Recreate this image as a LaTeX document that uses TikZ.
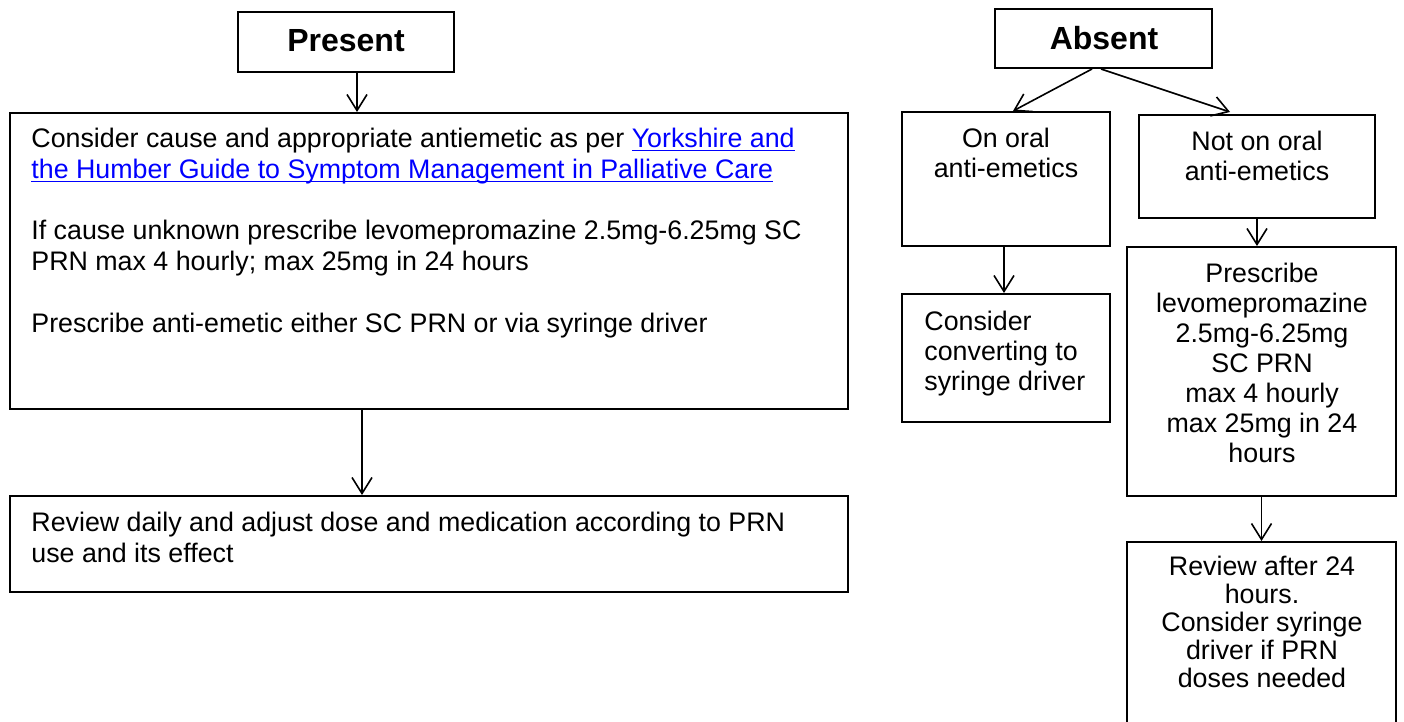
\documentclass[tikz,border=0pt]{standalone}
\usepackage{fontspec}
\setmainfont{Liberation Sans}
\usetikzlibrary{arrows.meta,calc,fit}
\newcommand{\lnk}[1]{\textcolor{blue}{\setbox0\hbox{#1}\rlap{\rule[-2pt]{\wd0}{0.7pt}}\box0}}
\tikzset{
  box/.style={draw, line width=1pt, inner sep=0pt, rectangle},
  arr/.style={line width=0.8pt, -{Straight Barb[length=8pt,width=10pt,line width=0.8pt]}},
  head/.style={font=\fontsize{16}{19}\bfseries\selectfont, inner sep=0pt, anchor=base},
  ltxt/.style={font=\fontsize{13.4}{15.4}\selectfont, inner sep=0pt, anchor=north west, align=left},
  ctxt/.style={font=\fontsize{13.4}{15}\selectfont, inner sep=0pt, anchor=north, align=center},
  rtxt/.style={font=\fontsize{13.4}{15}\selectfont, inner sep=0pt, anchor=north west, align=left},
  dtxt/.style={font=\fontsize{13.4}{14}\selectfont, inner sep=0pt, anchor=north, align=center}
}
\begin{document}
\begin{tikzpicture}[x=0.5pt,y=-0.5pt]
\clip (0,0) rectangle (1404,722);
\fill[white] (0,0) rectangle (1404,722);
% boxes
\node[box, fit={(238,12) (454,72)}] (present) {};
\node[box, fit={(10,113) (848,409)}] (big) {};
\node[box, fit={(10,496) (848,592)}] (review) {};
\node[box, fit={(995,9) (1212,68)}] (absent) {};
\node[box, fit={(902,112) (1110,246)}] (onoral) {};
\node[box, fit={(1139,115) (1375,218)}] (notoral) {};
\node[box, fit={(902,294) (1110,422)}] (convert) {};
\node[box, fit={(1127,247) (1396,496)}] (prescribe) {};
\node[box, fit={(1127,542) (1396,740)}] (reviewafter) {};
% texts
\node[head] (tpresent) at (346,52) {Present};
\node[head] (tabsent) at (1104,50) {Absent};
\node[ltxt] (tbig) at (31,125.4) {\strut Consider cause and appropriate antiemetic as per \lnk{Yorkshire and}\\
\lnk{the Humber Guide to Symptom Management in Palliative Care}\\[15.4pt]
If cause unknown prescribe levomepromazine 2.5mg-6.25mg SC\\
PRN max 4 hourly; max 25mg in 24 hours\\[15.4pt]
Prescribe anti-emetic either SC PRN or via syringe driver};
\node[ltxt] (treview) at (31,509.4) {\strut Review daily and adjust dose and medication according to PRN\\use and its effect};
\node[ctxt] (tonoral) at (1006,126) {\strut On oral\\anti-emetics};
\node[ctxt] (tnotoral) at (1257,129) {\strut Not on oral\\anti-emetics};
\node[rtxt] (tconvert) at (924,309) {\strut Consider\\converting to\\syringe driver};
\node[ctxt] (tprescribe) at (1262,261) {\strut Prescribe\\levomepromazine\\2.5mg-6.25mg\\SC PRN\\max 4 hourly\\max 25mg in 24\\hours};
\node[dtxt] (treviewafter) at (1262,555.4) {\strut Review after 24\\hours.\\Consider syringe\\driver if PRN\\doses needed};
% connector anchors
\coordinate (c1) at ($(present.south)+(11,0)$);
\coordinate (c2) at ($(big.south)+(-67,0)$);
\coordinate (c3) at ($(absent.south)+(-11.5,0)$);
\coordinate (c4) at ($(onoral.north)+(7,0)$);
\coordinate (c5) at ($(absent.south)+(-2.5,0)$);
\coordinate (c6) at ($(notoral.north)+(-27,-2)$);
\coordinate (c7) at ($(onoral.south)+(-2,0)$);
% connectors
\draw[arr] (c1) -- (c1 |- big.north);
\draw[arr] (c2) -- (c2 |- review.north);
\draw[arr] (c3) -- (c4);
\draw[arr] (c5) -- (c6);
\draw[arr] (c7) -- (c7 |- convert.north);
\draw[arr] (notoral.south) -- (notoral.south |- prescribe.north);
\draw[arr] (prescribe.south) -- (prescribe.south |- reviewafter.north);
\end{tikzpicture}
\end{document}
